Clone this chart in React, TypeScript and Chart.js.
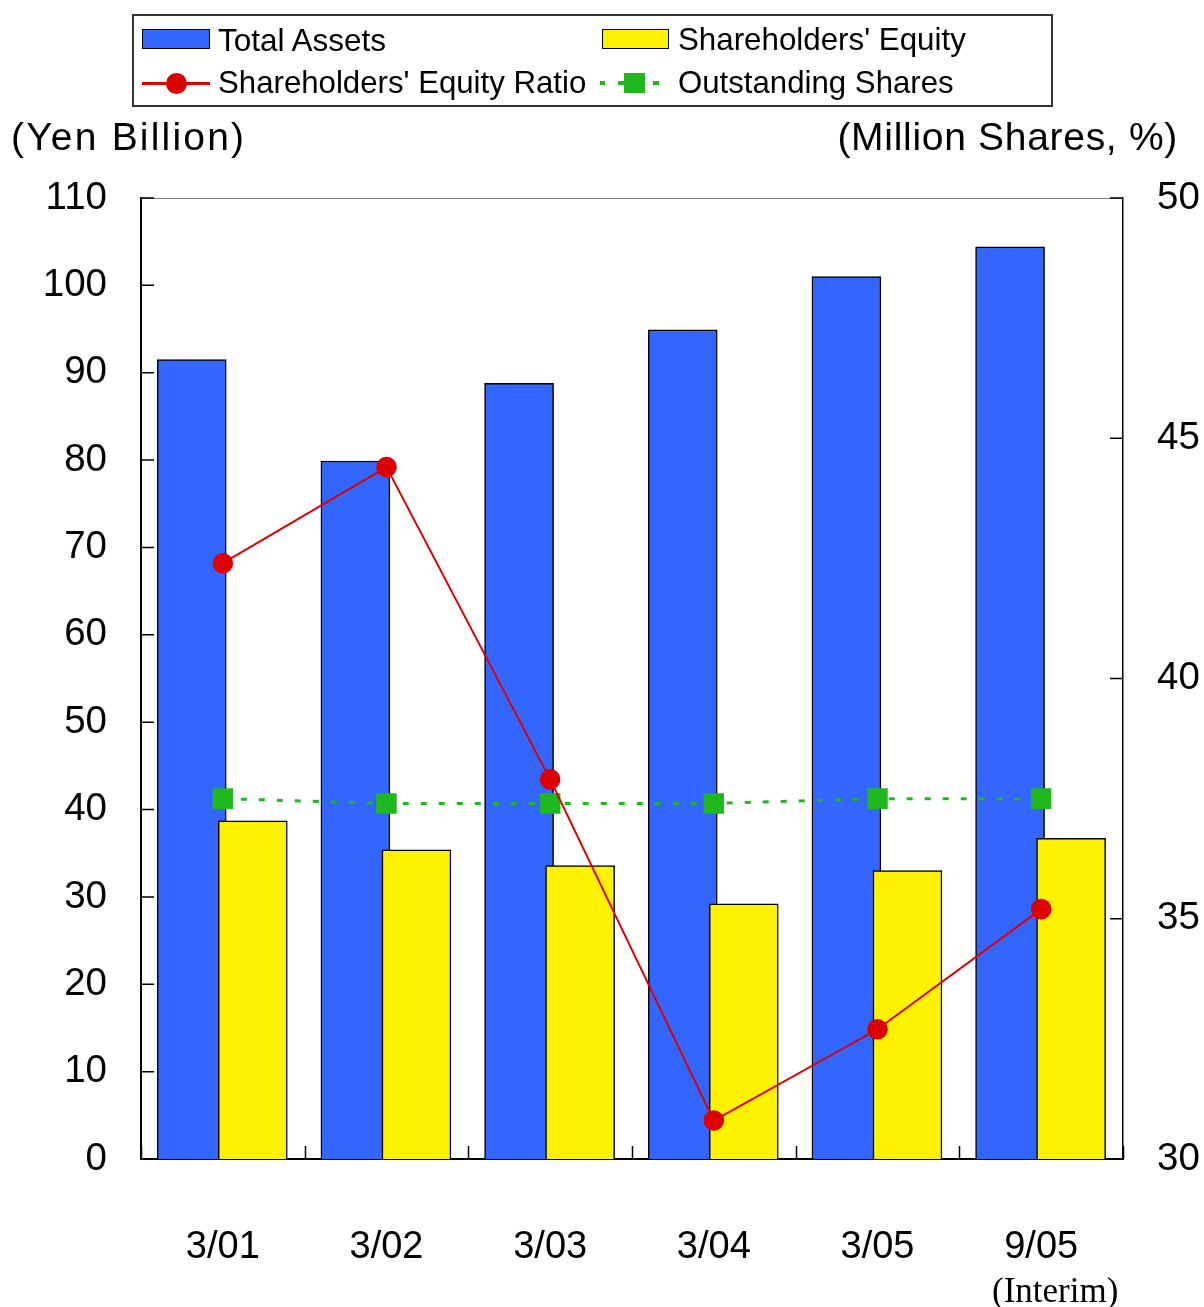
import React, { useEffect, useRef } from 'react';
import { Chart, registerables } from 'chart.js';

Chart.register(...registerables);

// ---- data ----
const categories = ['3/01', '3/02', '3/03', '3/04', '3/05', '9/05'];
const categorySubLabels = ['', '', '', '', '', '(Interim)'];
const totalAssets = [91.5, 79.9, 88.8, 94.9, 101.0, 104.4];
const shareholdersEquity = [38.7, 35.4, 33.6, 29.2, 33.0, 36.7];
const equityRatio = [42.4, 44.4, 37.9, 30.8, 32.7, 35.2];
const outstandingShares = [37.5, 37.4, 37.4, 37.4, 37.5, 37.5];
const leftAxis = { min: 0, max: 110, step: 10 };
const rightAxis = { min: 30, max: 50, step: 5 };
const leftTitle = '(Yen Billion)';
const rightTitle = '(Million Shares, %)';

// ---- style ----
const W = 1204;
const H = 1307;
const FONT = '"Liberation Sans", Arial, sans-serif';
const BLUE = '#3366FF';
const YELLOW = '#FFF200';
const RED = '#DD0000';
const GREEN = '#1FB81F';
const ASSETS_SHIFT = -0.19;
const EQUITY_SHIFT = 0.183;

const framePlugin = {
  id: 'frame',
  beforeDatasetsDraw(chart: any) {
    const { ctx, chartArea: a, scales } = chart;
    ctx.save();
    ctx.strokeStyle = '#808080';
    ctx.lineWidth = 1;
    ctx.beginPath();
    ctx.moveTo(a.left, a.top + 0.5);
    ctx.lineTo(a.right, a.top + 0.5);
    ctx.stroke();
    ctx.strokeStyle = '#000';
    ctx.lineWidth = 1.5;
    const tl = 13;
    ctx.beginPath();
    scales.y.ticks.forEach((t: any) => {
      const y = scales.y.getPixelForValue(t.value);
      ctx.moveTo(a.left, y);
      ctx.lineTo(a.left + tl, y);
    });
    scales.y2.ticks.forEach((t: any) => {
      const y = scales.y2.getPixelForValue(t.value);
      ctx.moveTo(a.right - tl, y);
      ctx.lineTo(a.right, y);
    });
    for (let i = 0; i <= categories.length; i++) {
      const x = Math.round(scales.xb.getPixelForValue(i - 0.5)) + 0.5;
      ctx.moveTo(x, a.bottom);
      ctx.lineTo(x, a.bottom - tl);
    }
    ctx.stroke();
    ctx.restore();
  },
  afterDraw(chart: any) {
    const { ctx, scales } = chart;
    ctx.save();
    ctx.fillStyle = '#000';
    ctx.font = '35px "Liberation Serif", "DejaVu Serif", serif';
    ctx.textAlign = 'center';
    ctx.textBaseline = 'alphabetic';
    categorySubLabels.forEach((s, i) => {
      if (!s) return;
      const x = scales.x.getPixelForValue(i) + 14;
      ctx.fillText(s, x, 1302);
    });
    ctx.restore();
  },
};

export default function App() {
  const ref = useRef<HTMLCanvasElement | null>(null);

  useEffect(() => {
    if (!ref.current) return;
    const chart = new Chart(ref.current, {
      type: 'bar',
      data: {
        labels: categories,
        datasets: [
          {
            type: 'bar',
            label: 'Total Assets',
            data: totalAssets.map((v, i) => ({ x: i + ASSETS_SHIFT, y: v })),
            xAxisID: 'xb',
            yAxisID: 'y',
            backgroundColor: BLUE,
            borderColor: '#000',
            borderWidth: 1.5,
            barThickness: 69,
            grouped: false,
            order: 4,
          } as any,
          {
            type: 'bar',
            label: "Shareholders' Equity",
            data: shareholdersEquity.map((v, i) => ({ x: i + EQUITY_SHIFT, y: v })),
            xAxisID: 'xb',
            yAxisID: 'y',
            backgroundColor: YELLOW,
            borderColor: '#000',
            borderWidth: 1.5,
            barThickness: 69,
            grouped: false,
            order: 3,
          } as any,
          {
            type: 'line',
            label: "Shareholders' Equity Ratio",
            data: equityRatio,
            xAxisID: 'x',
            yAxisID: 'y2',
            borderColor: RED,
            backgroundColor: RED,
            borderWidth: 2,
            pointRadius: 10.3,
            pointBorderWidth: 0,
            pointStyle: 'circle',
            tension: 0,
            fill: false,
            order: 1,
          } as any,
          {
            type: 'line',
            label: 'Outstanding Shares',
            data: outstandingShares,
            xAxisID: 'x',
            yAxisID: 'y2',
            borderColor: GREEN,
            backgroundColor: GREEN,
            borderWidth: 3,
            borderDash: [6, 12],
            pointRadius: 14.5,
            pointBorderWidth: 0,
            pointStyle: 'rect',
            tension: 0,
            fill: false,
            order: 2,
          } as any,
        ],
      },
      options: {
        responsive: false,
        animation: false,
        layout: { padding: { left: 0, right: 0, top: 198, bottom: 0 } },
        plugins: {
          legend: { display: false },
          tooltip: { enabled: false },
          title: { display: false },
        },
        scales: {
          x: {
            type: 'category',
            position: 'bottom',
            offset: true,
            grid: { display: false, drawTicks: false },
            border: { display: true, color: '#000', width: 2 },
            ticks: {
              color: '#000',
              font: { family: FONT, size: 38 },
              padding: 66,
              maxRotation: 0,
              autoSkip: false,
            },
            afterFit: (s: any) => {
              s.height = H - 1159;
            },
          },
          xb: {
            type: 'linear',
            display: false,
            offset: false,
            grid: { offset: false },
            min: -0.5,
            max: categories.length - 0.5,
          },
          y: {
            type: 'linear',
            position: 'left',
            min: leftAxis.min,
            max: leftAxis.max,
            grid: { display: false, drawTicks: false },
            border: { display: true, color: '#000', width: 2 },
            ticks: {
              stepSize: leftAxis.step,
              color: '#000',
              font: { family: FONT, size: 38.5 },
              padding: 34,
            },
            afterFit: (s: any) => {
              s.width = 141;
            },
          },
          y2: {
            type: 'linear',
            position: 'right',
            min: rightAxis.min,
            max: rightAxis.max,
            grid: { display: false, drawTicks: false },
            border: { display: true, color: '#000', width: 1.5 },
            ticks: {
              stepSize: rightAxis.step,
              color: '#000',
              font: { family: FONT, size: 38.5 },
              padding: 34,
            },
            afterFit: (s: any) => {
              s.width = W - 1123;
            },
          },
        },
      } as any,
      plugins: [framePlugin],
    });
    return () => chart.destroy();
  }, []);

  const txt = (left: number, centerY: number, s: string, size: number) => (
    <div
      style={{
        position: 'absolute',
        left,
        top: centerY - 25,
        height: 50,
        lineHeight: '50px',
        fontFamily: FONT,
        fontSize: size,
        color: '#000',
        whiteSpace: 'nowrap',
      }}
    >
      {s}
    </div>
  );

  const box = (left: number, top: number, w: number, h: number, bg: string, extra: any = {}) => (
    <div
      style={{
        position: 'absolute',
        left,
        top,
        width: w,
        height: h,
        background: bg,
        boxSizing: 'border-box',
        ...extra,
      }}
    />
  );

  return (
    <div style={{ position: 'absolute', left: 0, top: 0, width: W, height: H, background: '#fff' }}>
      <canvas ref={ref} width={W} height={H} style={{ position: 'absolute', left: 0, top: 0, width: W, height: H }} />
      {/* legend */}
      {box(132, 14, 921, 93, 'transparent', { border: '2px solid #333' })}
      {box(142, 29, 68, 20, BLUE, { border: '1.5px solid #000' })}
      {txt(218, 39.5, 'Total Assets', 31.5)}
      {box(602, 29, 67, 20, YELLOW, { border: '1.5px solid #000' })}
      {txt(678, 39.5, "Shareholders' Equity", 31.3)}
      {box(142, 81.5, 68, 3, RED)}
      {box(166, 72.5, 21, 21, RED, { borderRadius: '50%' })}
      {txt(218, 83, "Shareholders' Equity Ratio", 31.2)}
      {box(600, 81, 5, 4, GREEN)}
      {box(618, 81, 6, 4, GREEN)}
      {box(624, 73, 21, 20, GREEN)}
      {box(653, 81, 6, 4, GREEN)}
      {txt(678, 83, 'Outstanding Shares', 31.2)}
      {/* axis unit titles */}
      <div
        style={{
          position: 'absolute',
          left: 11,
          top: 137 - 25,
          height: 50,
          lineHeight: '50px',
          fontFamily: FONT,
          fontSize: 39,
          letterSpacing: 2.2,
          whiteSpace: 'nowrap',
          color: '#000',
        }}
      >
        {leftTitle}
      </div>
      <div
        style={{
          position: 'absolute',
          right: W - 1178,
          top: 137 - 25,
          height: 50,
          lineHeight: '50px',
          fontFamily: FONT,
          fontSize: 39,
          letterSpacing: 0.7,
          whiteSpace: 'nowrap',
          color: '#000',
        }}
      >
        {rightTitle}
      </div>
    </div>
  );
}
